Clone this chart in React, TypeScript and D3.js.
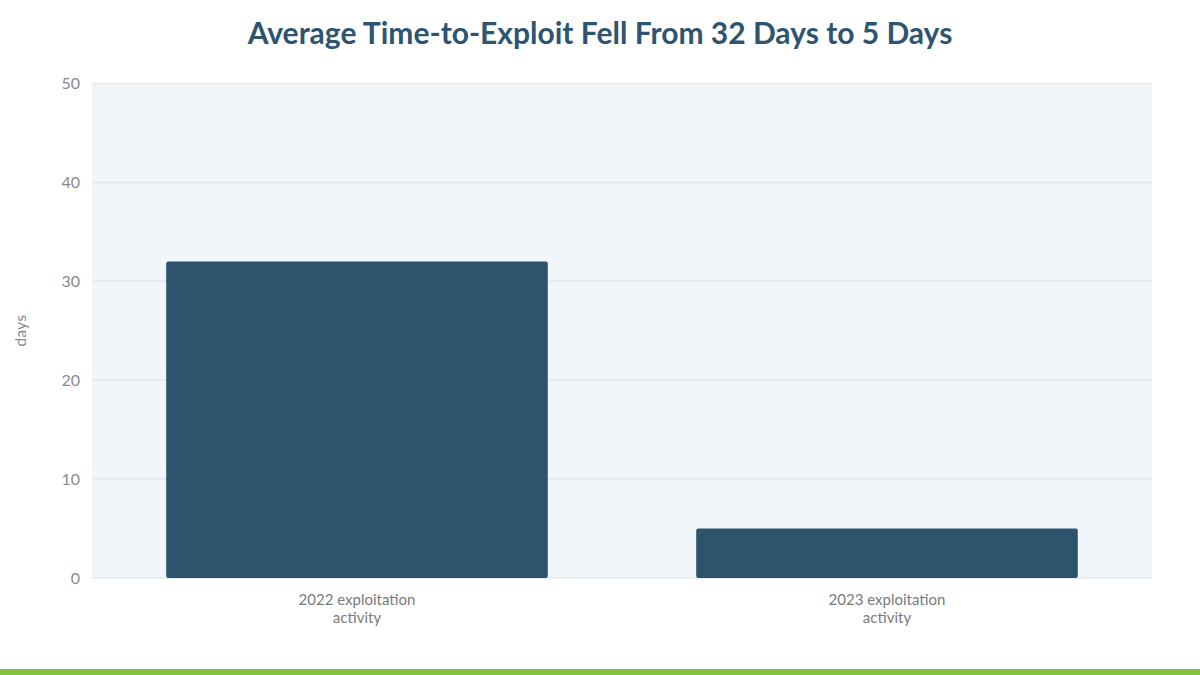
import React from "react";
import * as d3 from "d3";

const title = "Average Time-to-Exploit Fell From 32 Days to 5 Days";
const categories = ["2022 exploitation|activity", "2023 exploitation|activity"];
const values = [32, 5];
const yTicks = [0, 10, 20, 30, 40, 50];
const yLabel = "days";

const W = 1200;
const H = 675;
const M = { left: 92, right: 1152, top: 83.5, bottom: 578 };

export default function App() {
  const x = d3
    .scaleBand<string>()
    .domain(categories)
    .range([M.left, M.right])
    .paddingInner(0.28)
    .paddingOuter(0.14);
  const y = d3.scaleLinear().domain([0, 50]).range([M.bottom, M.top]);
  const font = "Lato, 'Open Sans', sans-serif";

  return (
    <svg
      width={W}
      height={H}
      style={{ position: "fixed", left: 0, top: 0, background: "#fff" }}
      fontFamily={font}
    >
      <text
        x={600}
        y={44}
        textAnchor="middle"
        fontSize={30}
        fontWeight={700}
        fill="#2e5470"
      >
        {title}
      </text>
      <rect
        x={M.left}
        y={M.top}
        width={M.right - M.left}
        height={M.bottom - M.top}
        fill="#f0f6f9"
      />
      {yTicks.map((t) => (
        <g key={t}>
          <line
            x1={M.left}
            x2={M.right}
            y1={y(t)}
            y2={y(t)}
            stroke="#e1e8ed"
            strokeWidth={1.5}
          />
          <text
            x={80}
            y={y(t)}
            dy="0.35em"
            textAnchor="end"
            fontSize={16}
            fill="#8a8a8a"
          >
            {t}
          </text>
        </g>
      ))}
      <text
        transform={`translate(26,${(M.top + M.bottom) / 2}) rotate(-90)`}
        textAnchor="middle"
        fontSize={16}
        fill="#8a8a8a"
      >
        {yLabel}
      </text>
      {categories.map((c, i) => (
        <g key={c}>
          <rect
            x={x(c)}
            y={y(values[i])}
            width={x.bandwidth()}
            height={y(0) - y(values[i])}
            rx={2}
            fill="#2e536d"
          />
          {c.split("|").map((line, j) => (
            <text
              key={j}
              x={(x(c) as number) + x.bandwidth() / 2}
              y={605 + j * 18}
              textAnchor="middle"
              fontSize={15}
              fill="#7a7a7a"
            >
              {line}
            </text>
          ))}
        </g>
      ))}
      <rect x={0} y={669} width={W} height={6} fill="#86c440" />
    </svg>
  );
}
